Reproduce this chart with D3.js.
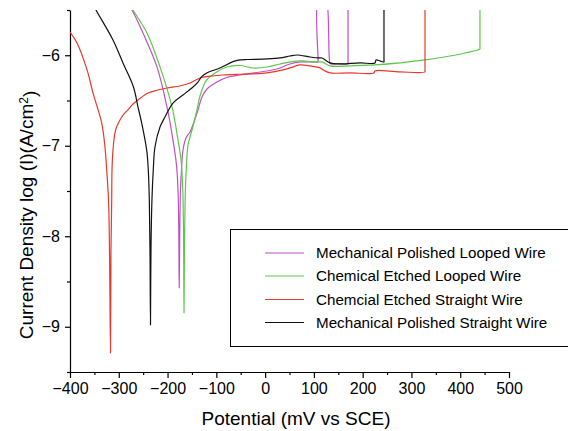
<!DOCTYPE html>
<html>
<head>
<meta charset="utf-8">
<script src="https://cdn.jsdelivr.net/npm/d3@7"></script>
<style>
  html, body { margin: 0; padding: 0; background: #fff; }
  svg { display: block; font-family: "Liberation Sans", Arial, sans-serif; }
</style>
</head>
<body>
<svg id="chart" width="568" height="431"></svg>
<script>
// Potentiodynamic polarisation curves: [potential mV vs SCE, log current density]
const mechPolishedLooped = [
  [-278, -5.46], [-272.9, -5.5], [-250.4, -5.754], [-221.7, -6.129], [-201.2, -6.571],
  [-188.9, -6.935], [-181.7, -7.213], [-178.6, -7.489], [-177, -7.931], [-176.1, -8.572],
  [-174.9, -7.931], [-173.5, -7.489], [-171.4, -7.268], [-168.4, -7.047], [-162.2, -6.914],
  [-154, -6.848], [-145.8, -6.738], [-137.6, -6.605], [-129.4, -6.461], [-119.2, -6.373],
  [-98.7, -6.296], [-76.1, -6.24], [-51.5, -6.218], [-10.5, -6.185], [24.4, -6.152],
  [51, -6.097], [71.5, -6.074], [92, -6.074], [108.4, -6.074], [108.6, -6.06], [110.5, -5.3],
  [122.5, -5.3], [133, -6.09], [135, -6.096], [153.5, -6.096], [170, -6.096],
  [170, -6.085], [170, -5.3]
];
const chemEtchedLooped = [
  [-275, -5.46], [-270.9, -5.5], [-242.2, -5.754], [-215.5, -6.129], [-190.9, -6.571],
  [-178.6, -6.935], [-172.4, -7.157], [-168.8, -7.489], [-167.1, -8.041], [-166.3, -8.848],
  [-165.1, -8.041], [-163.4, -7.489], [-161.2, -7.213], [-158.1, -6.992], [-149.9, -6.826],
  [-139.7, -6.605], [-133.5, -6.45], [-119.8, -6.273], [-99.3, -6.185], [-78.8, -6.13],
  [-51.5, -6.113], [-24.9, -6.141], [3.9, -6.13], [30.5, -6.097], [51, -6.075],
  [71.5, -6.063], [108.4, -6.074], [116.6, -6.074], [133, -6.118], [174, -6.118],
  [225.3, -6.107], [276.5, -6.085], [327.8, -6.052], [379, -6.008], [409.7, -5.975],
  [440.5, -5.93], [440.5, -5.915], [440.5, -5.3]
];
const chemEtchedStraight = [
  [-400, -5.743], [-385.6, -5.864], [-365, -6.162], [-352.9, -6.416], [-335, -6.749],
  [-328.3, -7.014], [-324.8, -7.268], [-321, -7.6], [-319, -8.15], [-317, -9.29],
  [-316, -8.15], [-314.5, -7.6], [-313.9, -7.268], [-311.9, -7.047], [-307.8, -6.859],
  [-303.7, -6.782], [-297.5, -6.715], [-289.3, -6.649], [-281.1, -6.604], [-270.9, -6.539],
  [-260.6, -6.494], [-240.1, -6.417], [-219.6, -6.384], [-201.2, -6.362], [-174.5, -6.34],
  [-154, -6.307], [-133.5, -6.251], [-119.8, -6.237], [-86.4, -6.218], [-51.5, -6.21],
  [-24.9, -6.206], [3.9, -6.195], [36.7, -6.162], [51, -6.14], [71.5, -6.107],
  [92, -6.118], [112.5, -6.14], [122.8, -6.173], [133, -6.195], [174, -6.195],
  [223.2, -6.195], [225.3, -6.173], [276.5, -6.184], [327.8, -6.184],
  [327.8, -6.17], [327.8, -5.3]
];
const mechPolishedStraight = [
  [-350, -5.46], [-346.7, -5.5], [-311.9, -5.831], [-291.4, -6.085], [-270.2, -6.345],
  [-260.6, -6.572], [-253, -6.749], [-242.8, -7.047], [-239.5, -7.268], [-237.4, -7.6],
  [-236, -8.15], [-235, -8.98],
  [-234, -8.15], [-232, -7.6], [-229.3, -7.268], [-225.8, -7.014], [-215.5, -6.793],
  [-205.3, -6.682], [-188.9, -6.528], [-168.4, -6.439], [-147.9, -6.351], [-137.6, -6.296],
  [-130, -6.237], [-119.8, -6.196], [-92.5, -6.141], [-65.9, -6.071], [-51.5, -6.052],
  [-37.2, -6.047], [3.9, -6.041], [30.5, -6.03], [51, -6.008], [65.4, -5.997],
  [92, -6.019], [108.4, -6.03], [116.6, -6.03], [133, -6.085], [153.5, -6.096],
  [194.5, -6.085], [225.3, -6.085], [227.3, -6.052], [235.5, -6.063], [241.7, -6.074],
  [243.7, -6.074], [243.7, -6.06], [243.7, -5.3]
];

const seriesNames = [
  "Mechanical Polished Looped Wire",
  "Chemical Etched Looped Wire",
  "Chemcial Etched Straight Wire",
  "Mechanical Polished Straight Wire"
];
const seriesColors = ["#c24fc4", "#5cc84a", "#e8392b", "#111111"];
const seriesData = [mechPolishedLooped, chemEtchedLooped, chemEtchedStraight, mechPolishedStraight];

const xMajorTicks = [-400, -300, -200, -100, 0, 100, 200, 300, 400, 500];
const xMinorTicks = [-350, -250, -150, -50, 50, 150, 250, 350, 450];
const yMajorTicks = [-9, -8, -7, -6];
const yMinorTicks = [-9.5, -8.5, -7.5, -6.5, -5.5];

const svg = d3.select("#chart");
const x = d3.scaleLinear().domain([-400, 500]).range([70, 509]);
const y = d3.scaleLinear().domain([-9.5, -5.5]).range([372, 10]);

svg.append("defs").append("clipPath").attr("id", "plotClip")
  .append("rect").attr("x", 70).attr("y", 10).attr("width", 439).attr("height", 362);

// Axes
svg.append("g").attr("transform", "translate(0,372)")
  .call(d3.axisBottom(x).tickValues(xMajorTicks).tickSize(6).tickSizeOuter(0).tickPadding(5)
    .tickFormat(d3.format("d")));
svg.append("g").attr("transform", "translate(0,372)")
  .call(d3.axisBottom(x).tickValues(xMinorTicks).tickSize(3).tickSizeOuter(0).tickFormat(""))
  .select(".domain").remove();
svg.append("g").attr("transform", "translate(70,0)")
  .call(d3.axisLeft(y).tickValues(yMajorTicks).tickSize(5).tickSizeOuter(0).tickPadding(5)
    .tickFormat(d3.format("d")));
svg.append("g").attr("transform", "translate(70,0)")
  .call(d3.axisLeft(y).tickValues(yMinorTicks).tickSize(3).tickSizeOuter(0).tickFormat(""))
  .select(".domain").remove();

svg.selectAll(".tick line, .domain").attr("stroke", "#000").attr("stroke-width", 1.2);
svg.selectAll(".tick text").attr("fill", "#000")
  .style("font-family", "'Liberation Sans', Arial, sans-serif").style("font-size", "16px");

// Curves
const line = d3.line().x(d => x(d[0])).y(d => y(d[1])).curve(d3.curveCatmullRom.alpha(0.5));
const plot = svg.append("g").attr("clip-path", "url(#plotClip)");
seriesData.forEach((data, i) => {
  plot.append("path").datum(data)
    .attr("d", line)
    .attr("fill", "none")
    .attr("stroke", seriesColors[i])
    .attr("stroke-width", 1.2)
    .attr("stroke-linejoin", "round");
});

// Axis titles
svg.append("text")
  .attr("x", 296).attr("y", 425)
  .attr("text-anchor", "middle")
  .style("font-size", "19px")
  .text("Potential (mV vs SCE)");

const yTitle = svg.append("text")
  .attr("transform", "translate(33,215) rotate(-90)")
  .attr("text-anchor", "middle")
  .style("font-size", "19px");
yTitle.append("tspan").text("Current Density log (I)(A/cm");
yTitle.append("tspan").attr("dy", "-0.45em").style("font-size", "12px").text("2");
yTitle.append("tspan").attr("dy", "0.45em").text(")");

// Legend
const legend = svg.append("g");
legend.append("rect")
  .attr("x", 230.5).attr("y", 229.5).attr("width", 345).attr("height", 117)
  .attr("fill", "#fff").attr("stroke", "#000").attr("stroke-width", 1);
const rowY = [253, 276, 299.5, 322.5];
seriesNames.forEach((name, i) => {
  legend.append("line")
    .attr("x1", 265).attr("x2", 304)
    .attr("y1", rowY[i]).attr("y2", rowY[i])
    .attr("stroke", seriesColors[i]).attr("stroke-width", 1.2);
  legend.append("text")
    .attr("x", 316).attr("y", rowY[i]).attr("dy", "0.36em")
    .style("font-size", "15.2px")
    .text(name);
});
</script>
</body>
</html>
